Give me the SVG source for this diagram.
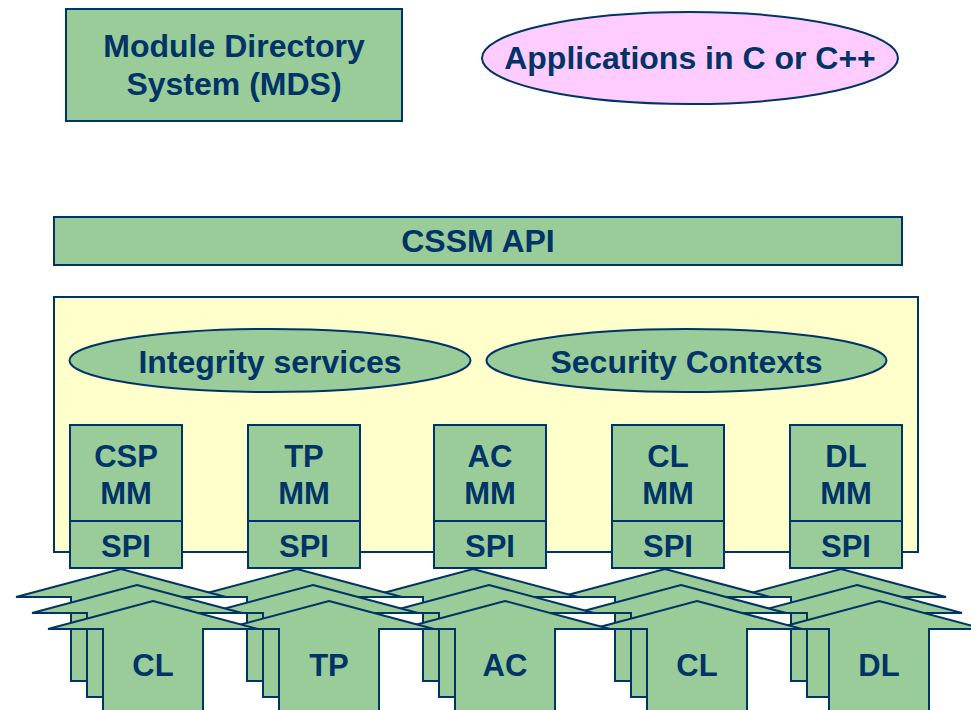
<svg xmlns="http://www.w3.org/2000/svg" xmlns:xlink="http://www.w3.org/1999/xlink" width="971" height="710" viewBox="0 0 971 710">
<style>
  .g { fill: #99CC99; stroke: #003366; stroke-width: 2; }
  .y { fill: #FFFFCC; stroke: #003366; stroke-width: 2; }
  .p { fill: #FFCCFF; stroke: #003366; stroke-width: 2; }
  .a { fill: #99CC99; stroke: #003366; stroke-width: 2; stroke-linejoin: miter; }
  text { font-family: "Liberation Sans", Arial, sans-serif; font-weight: bold; fill: #003366; text-anchor: middle; }
  .t32 { font-size: 32px; }
  .t31 { font-size: 31px; }
</style>
<defs>
  <polygon id="arr" points="0,0 105,28 50,28 50,112 -50,112 -50,28 -105,28"/>
</defs>
<rect width="971" height="710" fill="#FFFFFF"/>

<g id="mds">
  <rect class="g" x="66" y="9" width="336" height="112"/>
  <text class="t32" x="234" y="57">Module Directory</text>
  <text class="t32" x="234" y="95">System (MDS)</text>
</g>

<g id="applications">
  <ellipse class="p" cx="690" cy="58" rx="208" ry="46"/>
  <text class="t32" x="690" y="69">Applications in C or C++</text>
</g>

<g id="cssm-api">
  <rect class="g" x="54" y="217" width="848" height="48"/>
  <text class="t32" x="478" y="252">CSSM API</text>
</g>

<g id="cssm-core">
  <rect class="y" x="54" y="297" width="864" height="255"/>
</g>

<g id="integrity">
  <ellipse class="g" cx="270" cy="360.5" rx="200.5" ry="31.5"/>
  <text class="t32" x="270" y="373">Integrity services</text>
</g>

<g id="security">
  <ellipse class="g" cx="686.5" cy="360.5" rx="200" ry="31.5"/>
  <text class="t32" x="686.5" y="373">Security Contexts</text>
</g>

<g id="csp-mm">
  <rect class="g" x="70" y="425" width="112" height="96"/>
  <rect class="g" x="70" y="521" width="112" height="47"/>
  <text class="t31" x="126" y="467">CSP</text>
  <text class="t31" x="126" y="504">MM</text>
  <text class="t31" x="126" y="557">SPI</text>
</g>
<g id="tp-mm">
  <rect class="g" x="248" y="425" width="112" height="96"/>
  <rect class="g" x="248" y="521" width="112" height="47"/>
  <text class="t31" x="304" y="467">TP</text>
  <text class="t31" x="304" y="504">MM</text>
  <text class="t31" x="304" y="557">SPI</text>
</g>
<g id="ac-mm">
  <rect class="g" x="434" y="425" width="112" height="96"/>
  <rect class="g" x="434" y="521" width="112" height="47"/>
  <text class="t31" x="490" y="467">AC</text>
  <text class="t31" x="490" y="504">MM</text>
  <text class="t31" x="490" y="557">SPI</text>
</g>
<g id="cl-mm">
  <rect class="g" x="612" y="425" width="112" height="96"/>
  <rect class="g" x="612" y="521" width="112" height="47"/>
  <text class="t31" x="668" y="467">CL</text>
  <text class="t31" x="668" y="504">MM</text>
  <text class="t31" x="668" y="557">SPI</text>
</g>
<g id="dl-mm">
  <rect class="g" x="790" y="425" width="112" height="96"/>
  <rect class="g" x="790" y="521" width="112" height="47"/>
  <text class="t31" x="846" y="467">DL</text>
  <text class="t31" x="846" y="504">MM</text>
  <text class="t31" x="846" y="557">SPI</text>
</g>

<g id="connectors">
  <g id="dl-modules">
    <use xlink:href="#arr" href="#arr" class="a" x="841" y="569"/>
    <use xlink:href="#arr" href="#arr" class="a" x="857" y="585"/>
    <use xlink:href="#arr" href="#arr" class="a" x="879" y="601"/>
    <text class="t31" x="879" y="676">DL</text>
  </g>
  <g id="cl-modules">
    <use xlink:href="#arr" href="#arr" class="a" x="665" y="569"/>
    <use xlink:href="#arr" href="#arr" class="a" x="681" y="585"/>
    <use xlink:href="#arr" href="#arr" class="a" x="697" y="601"/>
    <text class="t31" x="697" y="676">CL</text>
  </g>
  <g id="ac-modules">
    <use xlink:href="#arr" href="#arr" class="a" x="473" y="569"/>
    <use xlink:href="#arr" href="#arr" class="a" x="489" y="585"/>
    <use xlink:href="#arr" href="#arr" class="a" x="505" y="601"/>
    <text class="t31" x="505" y="676">AC</text>
  </g>
  <g id="tp-modules">
    <use xlink:href="#arr" href="#arr" class="a" x="297" y="569"/>
    <use xlink:href="#arr" href="#arr" class="a" x="313" y="585"/>
    <use xlink:href="#arr" href="#arr" class="a" x="329" y="601"/>
    <text class="t31" x="329" y="676">TP</text>
  </g>
  <g id="csp-modules">
    <use xlink:href="#arr" href="#arr" class="a" x="121" y="569"/>
    <use xlink:href="#arr" href="#arr" class="a" x="137" y="585"/>
    <use xlink:href="#arr" href="#arr" class="a" x="153" y="601"/>
    <text class="t31" x="153" y="676">CL</text>
  </g>
</g>
</svg>
